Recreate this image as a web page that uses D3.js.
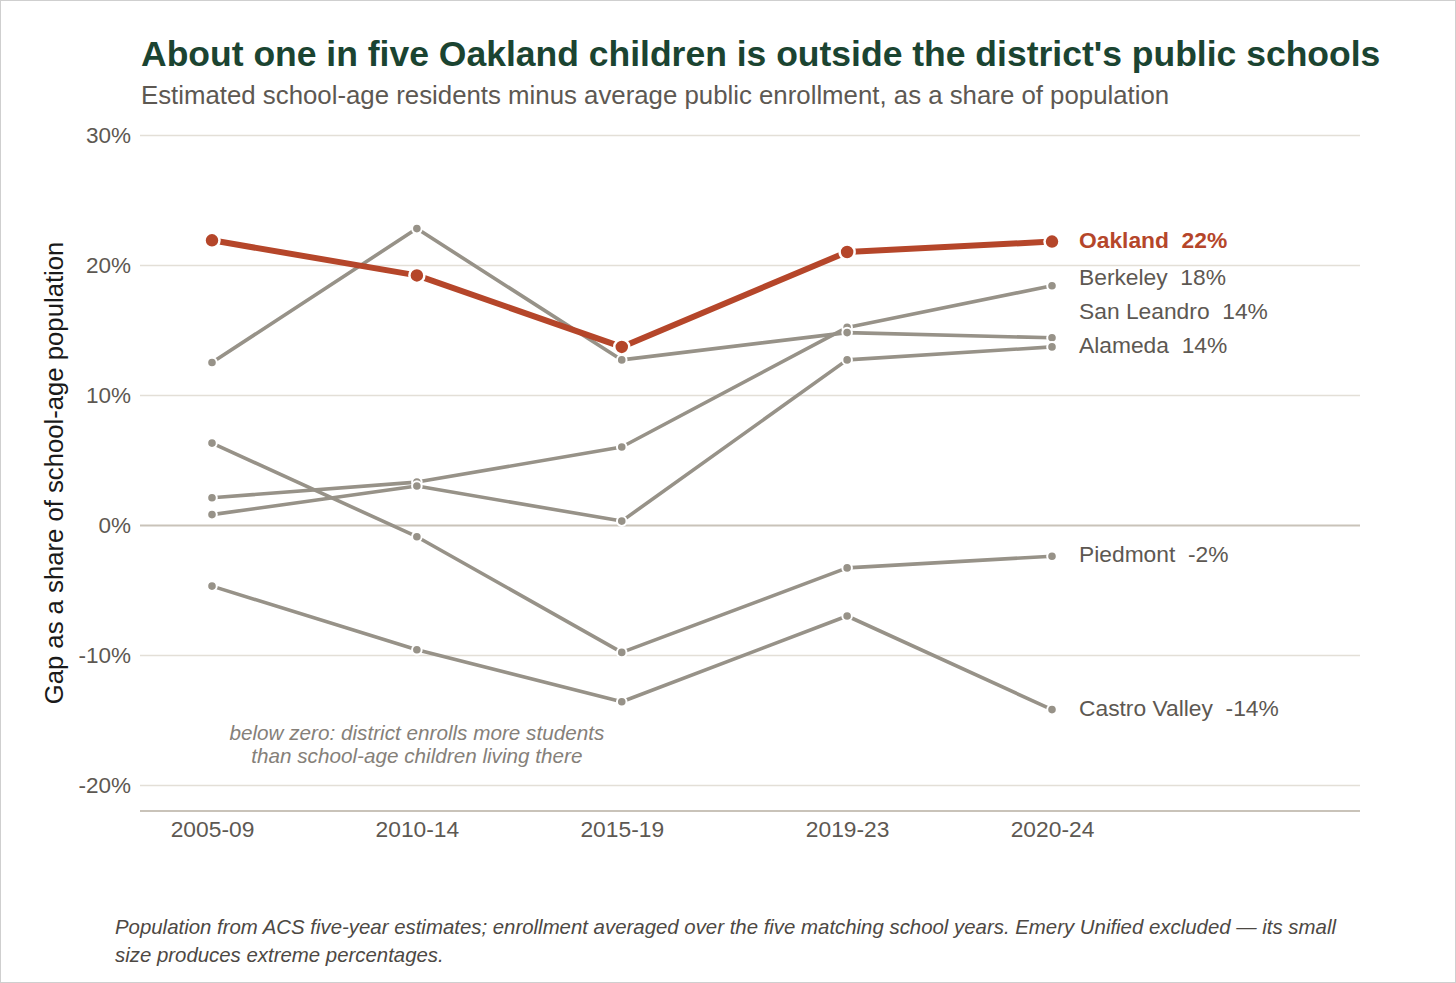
<!DOCTYPE html>
<html>
<head>
<meta charset="utf-8">
<script src="https://cdn.jsdelivr.net/npm/d3@7"></script>
<style>
  html, body { margin: 0; padding: 0; background: #fff; }
  svg { display: block; font-family: "Liberation Sans", Arial, sans-serif; }
</style>
</head>
<body>
<div id="chart"></div>
<script>
// periods and per-district gap (% of school-age population)
const periods = ['2005-09', '2010-14', '2015-19', '2019-23', '2020-24'];
const districts = ['Oakland', 'Berkeley', 'San Leandro', 'Alameda', 'Piedmont', 'Castro Valley'];
const oakland = [21.9, 19.2, 13.7, 21.0, 21.8];
const berkeley = [2.1, 3.3, 6.0, 15.2, 18.4];
const sanLeandro = [12.5, 22.8, 12.7, 14.8, 14.4];
const alameda = [0.8, 3.0, 0.3, 12.7, 13.7];
const piedmont = [6.3, -0.9, -9.8, -3.3, -2.4];
const castroValley = [-4.7, -9.6, -13.6, -7.0, -14.2];
const yTicks = [-20, -10, 0, 10, 20, 30];

const seriesValues = [oakland, berkeley, sanLeandro, alameda, piedmont, castroValley];

const width = 1456;
const height = 983;
const plotLeft = 140, plotRight = 1360;

const svg = d3.select('#chart')
    .append('svg')
    .attr('width', width)
    .attr('height', height);

svg.append('rect')
    .attr('x', 0.5).attr('y', 0.5)
    .attr('width', width - 1).attr('height', height - 1)
    .attr('fill', '#fff')
    .attr('stroke', '#cfcfcf');

// the 2019-23 window overlaps 2015-19, so the chart leaves a small extra gap there
const slot = i => i + (i >= 3 ? 0.1 : 0);
const x = d3.scaleLinear().domain([0, slot(4)]).range([212, 1052]);
const y = d3.scaleLinear().domain([-22, 30]).range([811, 135]);

// titles
svg.append('text')
    .attr('x', 141).attr('y', 66)
    .attr('fill', '#1b4431')
    .style('font-size', '35.5px')
    .style('font-weight', 'bold')
    .text("About one in five Oakland children is outside the district's public schools");

svg.append('text')
    .attr('x', 141).attr('y', 104)
    .attr('fill', '#5d5852')
    .style('font-size', '25.8px')
    .text('Estimated school-age residents minus average public enrollment, as a share of population');

// gridlines
const yGrid = d3.axisLeft(y)
    .tickValues(yTicks)
    .tickSize(-(plotRight - plotLeft))
    .tickFormat(d => d + '%')
    .tickPadding(9);

const gy = svg.append('g')
    .attr('transform', `translate(${plotLeft},0)`)
    .call(yGrid);
gy.select('.domain').remove();
gy.selectAll('.tick line')
    .attr('stroke', d => d === 0 ? '#c9c3b9' : '#e3dfd7')
    .attr('stroke-width', d => d === 0 ? 2.2 : 1.4);
gy.selectAll('.tick text')
    .attr('fill', '#5d5852')
    .style('font-size', '22.5px')
    .style('font-family', '"Liberation Sans", Arial, sans-serif');

// bottom axis
const xAxis = d3.axisBottom(x)
    .tickValues(periods.map((p, i) => slot(i)))
    .tickFormat((d, i) => periods[i])
    .tickSize(0)
    .tickPadding(10);

const gx = svg.append('g')
    .attr('transform', `translate(0,${y(-22)})`)
    .call(xAxis);
gx.select('.domain').remove();
gx.append('line')
    .attr('x1', plotLeft).attr('x2', plotRight)
    .attr('stroke', '#c9c3b9')
    .attr('stroke-width', 2);
gx.selectAll('.tick text')
    .attr('fill', '#5d5852')
    .style('font-size', '22.8px')
    .style('font-family', '"Liberation Sans", Arial, sans-serif');

// y axis title
svg.append('text')
    .attr('transform', `translate(63, ${y(4)}) rotate(-90)`)
    .attr('text-anchor', 'middle')
    .attr('fill', '#1a1a1a')
    .style('font-size', '25.7px')
    .text('Gap as a share of school-age population');

// note below zero
const note = svg.append('text')
    .attr('text-anchor', 'middle')
    .attr('fill', '#858079')
    .style('font-size', '20.7px')
    .style('font-style', 'italic');
note.append('tspan').attr('x', x(1)).attr('y', y(-16) + 7)
    .text('below zero: district enrolls more students');
note.append('tspan').attr('x', x(1)).attr('dy', 23)
    .text('than school-age children living there');

// lines, grey first, Oakland on top
const line = d3.line()
    .x((d, i) => x(slot(i)))
    .y(d => y(d));

const order = [1, 2, 3, 4, 5, 0];
order.forEach(k => {
    const isOak = k === 0;
    const vals = seriesValues[k];
    const g = svg.append('g');
    g.append('path')
        .datum(vals)
        .attr('d', line)
        .attr('fill', 'none')
        .attr('stroke', isOak ? '#b5462a' : '#979288')
        .attr('stroke-width', isOak ? 6 : 3.6)
        .attr('stroke-linejoin', 'round');
    g.selectAll('circle')
        .data(vals)
        .enter()
        .append('circle')
        .attr('cx', (d, i) => x(slot(i)))
        .attr('cy', d => y(d))
        .attr('r', isOak ? 7.5 : 4.8)
        .attr('fill', isOak ? '#b5462a' : '#979288')
        .attr('stroke', '#fff')
        .attr('stroke-width', isOak ? 2.5 : 2);
});

// end labels, pushed apart from the bottom up
const minGap = 34;
const labels = districts.map((name, k) => {
    const last = seriesValues[k][seriesValues[k].length - 1];
    return { name, k, value: last, ty: y(last) };
});
const sorted = labels.slice().sort((a, b) => b.ty - a.ty);
for (let i = 1; i < sorted.length; i++) {
    sorted[i].ty = Math.min(sorted[i].ty, sorted[i - 1].ty - minGap);
}

svg.append('g')
    .selectAll('text')
    .data(labels)
    .enter()
    .append('text')
    .attr('x', x(slot(4)) + 27)
    .attr('y', d => d.ty - 2)
    .attr('dy', '0.36em')
    .attr('fill', d => d.k === 0 ? '#b5462a' : '#5d5852')
    .style('font-size', '22.8px')
    .style('font-weight', d => d.k === 0 ? 'bold' : 'normal')
    .style('white-space', 'pre')
    .text(d => `${d.name}  ${Math.round(d.value)}%`);

// footnote
const foot = svg.append('text')
    .attr('fill', '#4d4843')
    .style('font-size', '20.4px')
    .style('font-style', 'italic');
foot.append('tspan').attr('x', 115).attr('y', 934)
    .text('Population from ACS five-year estimates; enrollment averaged over the five matching school years. Emery Unified excluded \u2014 its small');
foot.append('tspan').attr('x', 115).attr('dy', 28)
    .text('size produces extreme percentages.');
</script>
</body>
</html>
